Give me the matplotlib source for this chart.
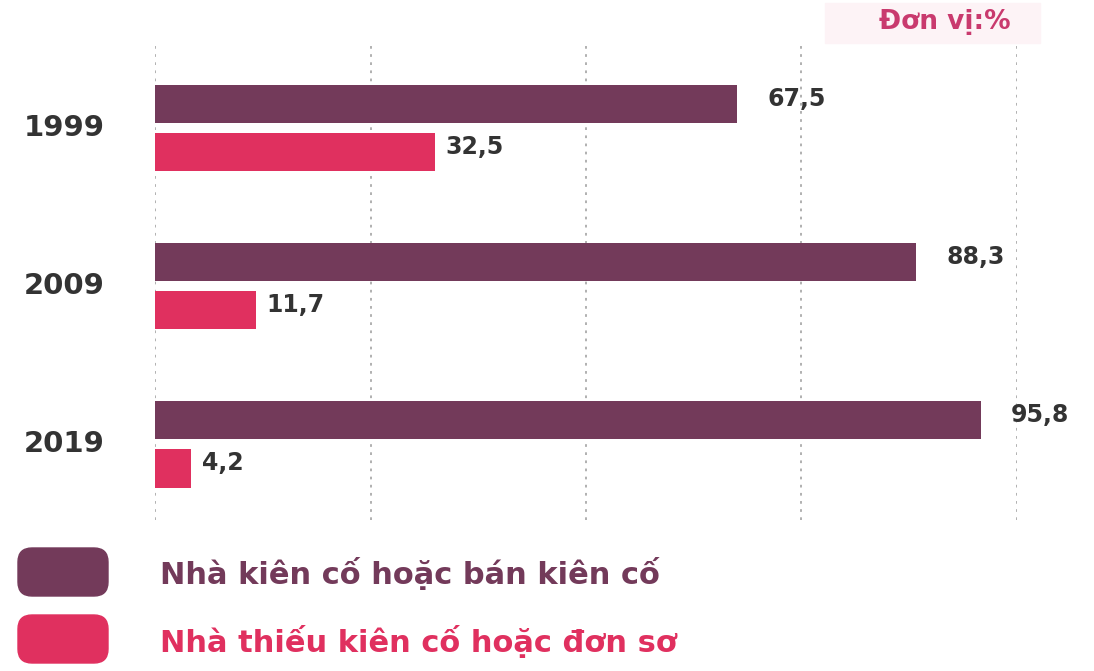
import matplotlib
matplotlib.use('Agg')
import matplotlib.pyplot as plt
from matplotlib.patches import FancyBboxPatch
import numpy as np

plt.rcParams['font.family'] = ['DejaVu Sans']

# data
years = ['1999', '2009', '2019']
kien_co = [67.5, 88.3, 95.8]
thieu_kien_co = [32.5, 11.7, 4.2]
series_names = ['Nhà kiên cố hoặc bán kiên cố', 'Nhà thiếu kiên cố hoặc đơn sơ']
grid_ticks = [0, 25, 50, 75, 100]
unit_label = 'Đơn vị:%'

dark = '#733a5a'
pink = '#e0305f'
text_dark = '#333333'

fig = plt.figure(figsize=(10.94, 6.71), dpi=100)
ax = fig.add_axes([155 / 1094, 1 - 520 / 671, (1017 - 155) / 1094, (520 - 45) / 671])

y = np.arange(len(years))
off = 0.152
h = 0.245
ax.barh(y - off, kien_co, height=h, color=dark, zorder=2)
ax.barh(y + off, thieu_kien_co, height=h, color=pink, zorder=2)

for yi, v in zip(y - off, kien_co):
    ax.text(v + 3.5, yi - 0.03, ('%.1f' % v).replace('.', ','), va='center', ha='left',
            fontsize=17, fontweight='bold', color=text_dark, clip_on=False)
for yi, v in zip(y + off, thieu_kien_co):
    ax.text(v + 1.2, yi - 0.03, ('%.1f' % v).replace('.', ','), va='center', ha='left',
            fontsize=17, fontweight='bold', color=text_dark, clip_on=False)

ax.set_xlim(0, 100)
ax.set_ylim(2.48, -0.525)
ax.set_xticks(grid_ticks)
ax.set_yticks([])
ax.tick_params(axis='x', length=0, labelbottom=False)
ax.grid(True, axis='x', color='#aaaaaa', linestyle=(0, (1.5, 3)), linewidth=1.3, zorder=0)
for s in ax.spines.values():
    s.set_visible(False)

# year labels
for yi, yr in zip(y, years):
    ax.text(-0.105, yi, yr, transform=ax.get_yaxis_transform(), ha='center', va='center',
            fontsize=21, fontweight='bold', color=text_dark)

# overlay in pixel coordinates for legend and unit
ov = fig.add_axes([0, 0, 1, 1])
ov.set_xlim(0, 1094)
ov.set_ylim(671, 0)
ov.axis('off')
ov.patch.set_alpha(0)

ov.add_patch(FancyBboxPatch((825, 3), 215, 40, boxstyle='square,pad=0', color='#fdf3f6', zorder=0))
ov.text(945, 22, unit_label, ha='center', va='center', fontsize=19, fontweight='bold', color='#c93a6e')

for i, (name, col) in enumerate(zip(series_names, [dark, pink])):
    y0 = 548 + i * 67
    ov.add_patch(FancyBboxPatch((26, y0 + 8), 74, 32, boxstyle='round,pad=8,rounding_size=14',
                                color=col, mutation_aspect=1))
    ov.text(160, y0 + 26, name, ha='left', va='center', fontsize=22, fontweight='bold', color=col)

fig.savefig('out.png', dpi=100)
